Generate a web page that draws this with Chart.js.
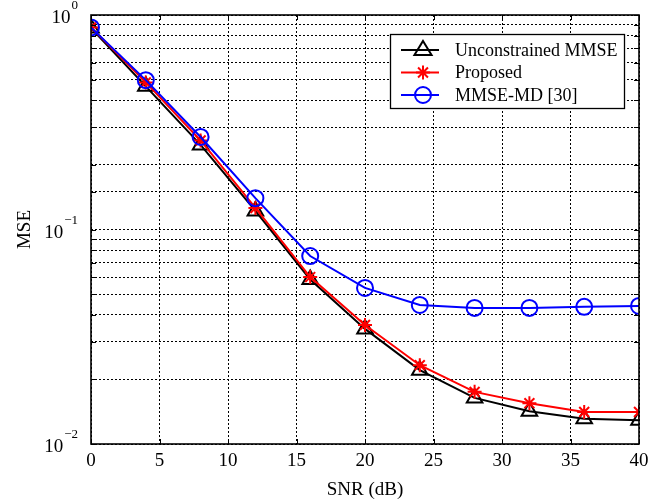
<!DOCTYPE html>
<html>
<head>
<meta charset="utf-8">
<script src="https://cdn.jsdelivr.net/npm/chart.js@4/dist/chart.umd.min.js"></script>
<style>
html,body{margin:0;padding:0;background:#fff;}
canvas{display:block;}
</style>
</head>
<body>
<canvas id="c" width="664" height="502"></canvas>
<script>
// ---- data ----
const snr = [0, 4, 8, 12, 16, 20, 24, 28, 32, 36, 40];
const mseUnconstrained = [0.87, 0.465, 0.248, 0.122, 0.0585, 0.0344, 0.0221, 0.0164, 0.0142, 0.0131, 0.0129];
const mseProposed      = [0.875, 0.485, 0.26, 0.126, 0.060, 0.0359, 0.0233, 0.0175, 0.0155, 0.0141, 0.0141];
const mseMD            = [0.875, 0.497, 0.27, 0.140, 0.0752, 0.0534, 0.0445, 0.0431, 0.0431, 0.0436, 0.044];
const seriesLabels = ['Unconstrained MMSE', 'Proposed', 'MMSE-MD [30]'];
const xTickValues = [0, 5, 10, 15, 20, 25, 30, 35, 40];
const yTickValues = [1, 0.1, 0.01];
const yTickBase = '10';
const yTickExponents = ['0', '\u22121', '\u22122'];
const xTitle = 'SNR (dB)';
const yTitle = 'MSE';

const FONT = '"Liberation Serif", "Times New Roman", serif';

function drawMarker(ctx, style, x, y, r, color) {
  ctx.save();
  ctx.strokeStyle = color;
  ctx.lineWidth = 2;
  ctx.setLineDash([]);
  ctx.beginPath();
  if (style === 'triangle') {
    ctx.moveTo(x, y - r);
    ctx.lineTo(x + r * 0.95, y + r * 0.55);
    ctx.lineTo(x - r * 0.95, y + r * 0.55);
    ctx.closePath();
  } else if (style === 'circle') {
    ctx.arc(x, y, r, 0, Math.PI * 2);
  } else if (style === 'star') {
    const d = r * Math.SQRT1_2;
    ctx.moveTo(x - r, y); ctx.lineTo(x + r, y);
    ctx.moveTo(x, y - r); ctx.lineTo(x, y + r);
    ctx.moveTo(x - d, y - d); ctx.lineTo(x + d, y + d);
    ctx.moveTo(x - d, y + d); ctx.lineTo(x + d, y - d);
  }
  ctx.stroke();
  ctx.restore();
}

const decor = {
  id: 'decor',
  afterDraw(chart) {
    const ctx = chart.ctx;
    const a = chart.chartArea;
    const xs = chart.scales.x, ys = chart.scales.y;
    ctx.save();
    // inward ticks
    ctx.strokeStyle = '#000';
    ctx.lineWidth = 1;
    ctx.beginPath();
    ys.ticks.forEach(t => {
      const py = Math.round(ys.getPixelForValue(t.value)) + 0.5;
      ctx.moveTo(a.left, py); ctx.lineTo(a.left + 5, py);
      ctx.moveTo(a.right, py); ctx.lineTo(a.right - 5, py);
    });
    xTickValues.forEach(v => {
      const px = Math.round(xs.getPixelForValue(v)) + 0.5;
      ctx.moveTo(px, a.bottom); ctx.lineTo(px, a.bottom - 5);
      ctx.moveTo(px, a.top); ctx.lineTo(px, a.top + 5);
    });
    ctx.stroke();
    // box
    ctx.lineWidth = 1.6;
    ctx.strokeRect(a.left, a.top, a.right - a.left, a.bottom - a.top);

    // y tick labels with superscripts
    ctx.fillStyle = '#000';
    ctx.textBaseline = 'alphabetic';
    yTickValues.forEach((v, i) => {
      const py = ys.getPixelForValue(v);
      ctx.font = '13px ' + FONT;
      const ew = ctx.measureText(yTickExponents[i]).width;
      const rightEdge = a.left - 13;
      ctx.textAlign = 'left';
      ctx.fillText(yTickExponents[i], rightEdge - ew, py - 6);
      ctx.font = '19px ' + FONT;
      ctx.textAlign = 'right';
      ctx.fillText(yTickBase, rightEdge - ew - 1, py + 8);
    });

    // axis titles
    ctx.font = '19px ' + FONT;
    ctx.textAlign = 'center';
    ctx.textBaseline = 'middle';
    ctx.fillText(xTitle, (a.left + a.right) / 2, 490);
    ctx.save();
    ctx.translate(25, (a.top + a.bottom) / 2);
    ctx.rotate(-Math.PI / 2);
    ctx.fillText(yTitle, 0, 0);
    ctx.restore();

    // legend
    const lx = 390, ly = 34, lw = 234, lh = 74;
    ctx.fillStyle = '#fff';
    ctx.fillRect(lx, ly, lw, lh);
    ctx.strokeStyle = '#000';
    ctx.lineWidth = 1.3;
    ctx.strokeRect(lx + 0.5, ly + 0.5, lw, lh);
    const rows = [50, 72.5, 95];
    chart.data.datasets.forEach((ds, i) => {
      const y = rows[i];
      ctx.strokeStyle = ds.borderColor;
      ctx.lineWidth = 2;
      ctx.beginPath();
      ctx.moveTo(401, y); ctx.lineTo(439, y);
      ctx.stroke();
      drawMarker(ctx, ds.pointStyle, 423, y, ds.pointRadius, ds.borderColor);
      ctx.fillStyle = '#000';
      ctx.font = '18px ' + FONT;
      ctx.textAlign = 'left';
      ctx.textBaseline = 'middle';
      ctx.fillText(ds.label, 455, y + 1);
    });
    ctx.restore();
  }
};

const mk = (arr) => snr.map((x, i) => ({ x: x, y: arr[i] }));

new Chart(document.getElementById('c'), {
  type: 'line',
  data: {
    datasets: [
      { label: seriesLabels[0], data: mk(mseUnconstrained), borderColor: '#000000', backgroundColor: 'rgba(0,0,0,0)',
        borderWidth: 2, pointStyle: 'triangle', pointRadius: 9, pointBorderWidth: 2, order: 3 },
      { label: seriesLabels[1], data: mk(mseProposed), borderColor: '#ff0000', backgroundColor: 'rgba(0,0,0,0)',
        borderWidth: 2, pointStyle: 'star', pointRadius: 7, pointBorderWidth: 2, order: 2 },
      { label: seriesLabels[2], data: mk(mseMD), borderColor: '#0000ff', backgroundColor: 'rgba(0,0,0,0)',
        borderWidth: 2, pointStyle: 'circle', pointRadius: 8, pointBorderWidth: 2, order: 1 }
    ]
  },
  options: {
    responsive: false,
    animation: false,
    devicePixelRatio: 1,
    layout: { padding: { left: 0, top: 15, right: 25, bottom: 0 } },
    plugins: { legend: { display: false }, tooltip: { enabled: false } },
    elements: { line: { tension: 0 } },
    scales: {
      x: {
        type: 'linear', min: 0, max: 40,
        afterFit: (s) => { s.height = 58; },
        afterBuildTicks: (s) => { s.ticks = xTickValues.map(v => ({ value: v })); },
        ticks: { color: '#000', font: { family: FONT, size: 19 }, padding: 6, maxRotation: 0, autoSkip: false },
        grid: { color: '#000', lineWidth: 1, drawTicks: false },
        border: { display: false, dash: [2, 2] }
      },
      y: {
        type: 'logarithmic', min: 0.01, max: 1,
        afterFit: (s) => { s.width = 91; },
        ticks: { display: false, autoSkip: false },
        grid: { color: '#000', lineWidth: 1, drawTicks: false },
        border: { display: false, dash: [2, 2] }
      }
    }
  },
  plugins: [decor]
});
</script>
</body>
</html>
